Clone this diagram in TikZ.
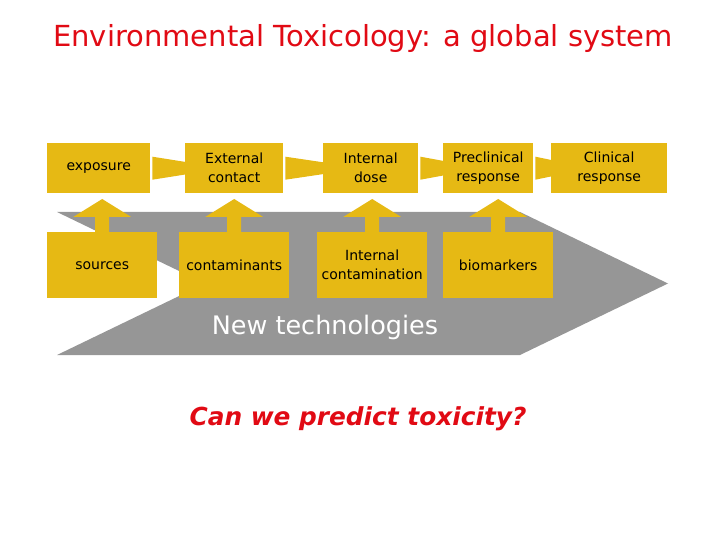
\documentclass[tikz,border=0pt]{standalone}
\usepackage{fontspec}
\setmainfont{DejaVu Sans}
\usetikzlibrary{calc}
\definecolor{yel}{RGB}{230,185,20}
\definecolor{gry}{RGB}{150,150,150}
\definecolor{ttl}{RGB}{225,10,20}
\pgfdeclarelayer{back}
\pgfdeclarelayer{mid}
\pgfsetlayers{back,mid,main}
\begin{document}
\begin{tikzpicture}[x=1pt,y=-1pt,
  box/.style={fill=yel, anchor=north west, inner sep=0pt, align=center,
    minimum height=#1, font=\fontsize{14}{19}\selectfont},
  box/.default=50,
  harrow/.style={fill=yel},
  varrow/.style={fill=yel}]
\useasboundingbox (0,0) rectangle (720,540);
% title
\node (title) at (363,39) {\fontsize{29}{32}\selectfont\color{ttl}Environmental Toxicology: a global system};
% boxes
\node[box, minimum width=103] (exp) at (47,143) {\raisebox{-2pt}{exposure}};
\node[box, minimum width=98] (ext) at (185,143) {External\\contact};
\node[box, minimum width=95] (idose) at (323,143) {Internal\\dose};
\node[box, minimum width=90] (pre) at (443,143) {Preclinical\\response};
\node[box, minimum width=116] (cli) at (551,143) {Clinical\\response};
\node[box=66, minimum width=110] (src) at (47,232) {\raisebox{-2pt}{sources}};
\node[box=66, minimum width=110] (con) at (179,232) {\raisebox{-2pt}{contaminants}};
\node[box=66, minimum width=110] (icon) at (317,232) {Internal\\contamination};
\node[box=66, minimum width=110] (bio) at (443,232) {\raisebox{-2pt}{biomarkers}};
% gray chevron
\begin{pgfonlayer}{back}
\fill[gry] (57,212) -- (520,212) -- (668,283.5) -- (520,355) -- (57,355) -- (205,283.5) -- cycle;
\end{pgfonlayer}
\node[white, font=\fontsize{25.5}{28}\selectfont] (newtech) at (325,327) {New technologies};
% arrows
\begin{pgfonlayer}{mid}
\foreach \a/\b in {exp/ext, ext/idose, idose/pre, pre/cli}{
  \fill[harrow] ($(\a.east)+(2,-11.5)$) -- ($(\b.west)+(40,0)$) -- ($(\a.east)+(2,11.5)$) -- cycle;
}
\foreach \a in {src, con, icon, bio}{
  \fill[varrow] ($(\a.north)+(-7,1)$) -- ++(0,-16) -- ++(-22,0) -- ++(29,-18)
     -- ++(29,18) -- ++(-22,0) -- ++(0,16) -- cycle;
}
\end{pgfonlayer}
% question
\node[font=\fontsize{24.8}{28}\selectfont\bfseries\itshape, text=ttl] (q) at (358,419) {Can we predict toxicity?};
\end{tikzpicture}
\end{document}
